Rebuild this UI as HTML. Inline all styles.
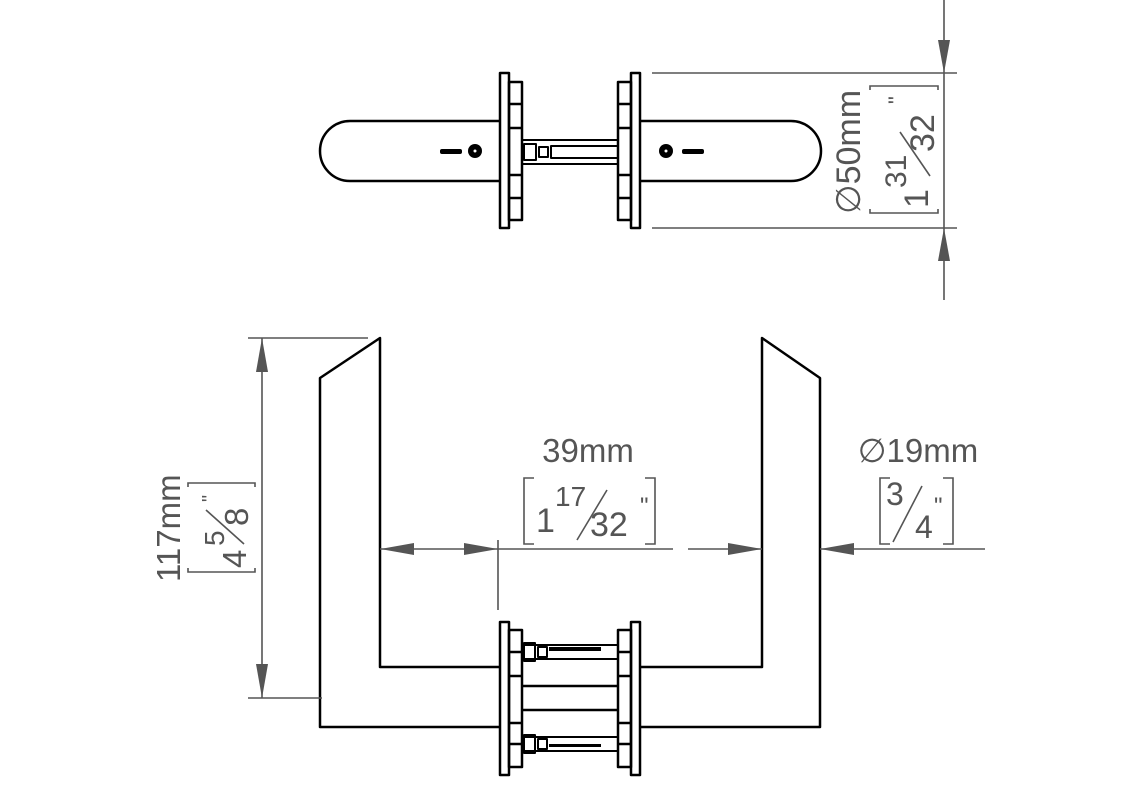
<!DOCTYPE html>
<html><head><meta charset="utf-8"><style>
html,body{margin:0;padding:0;background:#fff;}
svg{display:block;}
text{font-family:"Liberation Sans",Arial,sans-serif;fill:#555;}
</style></head><body>
<svg width="1130" height="800" viewBox="0 0 1130 800" xmlns="http://www.w3.org/2000/svg">
<g fill="none" stroke="#000" stroke-width="2.5" stroke-linejoin="round">
  <path d="M500,121 H350 A30,30 0 0 0 350,181 H500"/>
  <path d="M640,121 H791 A30,30 0 0 1 791,181 H640"/>
  <rect x="500" y="73" width="9" height="155"/>
  <rect x="509" y="82" width="13" height="138"/>
  <path d="M509,104H522M509,128H522M509,175H522M509,198H522"/>
  <rect x="631" y="73" width="9" height="155"/>
  <rect x="618" y="82" width="13" height="138"/>
  <path d="M618,104H631M618,128H631M618,175H631M618,198H631"/>
  <path d="M522,140H618M522,164H618" stroke-width="2"/>
  <rect x="524" y="144" width="12" height="16" stroke-width="2"/>
  <rect x="539" y="147" width="9" height="10" stroke-width="2"/>
  <rect x="551" y="146" width="67" height="12" stroke-width="2"/>
  <path d="M500,667 H380 V338 L320,378 V727 H500"/>
  <path d="M640,667 H762 V338 L820,378 V727 H640"/>
  <rect x="500" y="622" width="9" height="153"/>
  <rect x="509" y="630" width="13" height="137"/>
  <path d="M509,652H522M509,676H522M509,723H522M509,744H522"/>
  <rect x="631" y="622" width="9" height="153"/>
  <rect x="618" y="630" width="13" height="137"/>
  <path d="M618,652H631M618,676H631M618,723H631M618,744H631"/>
  <path d="M522,686H618M522,710H618"/>
  <path d="M522,645H618M522,659H618M522,737H618M522,751H618" stroke-width="2"/>
  <rect x="524" y="643" width="11" height="18" stroke-width="2"/>
  <rect x="538" y="647" width="9" height="10" stroke-width="2"/>
  <rect x="524" y="735" width="11" height="18" stroke-width="2"/>
  <rect x="538" y="739" width="9" height="10" stroke-width="2"/>
</g>
<g fill="#000">
  <circle cx="475" cy="151" r="7"/><rect x="440" y="149" width="22" height="5" rx="2"/>
  <circle cx="666" cy="151" r="7"/><rect x="682" y="149" width="22" height="5" rx="2"/>
</g>
<circle cx="475" cy="151" r="1.5" fill="#fff"/><circle cx="666" cy="151" r="1.5" fill="#fff"/>
<rect x="549" y="647" width="52" height="4" fill="#000"/>
<rect x="549" y="744" width="52" height="3" fill="#000"/>
<g stroke="#555" stroke-width="1.6" fill="none">
  <path d="M652,73H957M652,228H957M944,0V300"/>
  <path d="M248,338H368M248,698H322M262,338V698"/>
  <path d="M380,549H673M688,549H762M820,549H985M498,540V610"/>
</g>
<g fill="#555">
  <polygon points="944,73 938,40 950,40"/>
  <polygon points="944,228 938,261 950,261"/>
  <polygon points="262,338 256,372 268,372"/>
  <polygon points="262,698 256,664 268,664"/>
  <polygon points="380,549 414,543 414,555"/>
  <polygon points="498,549 464,543 464,555"/>
  <polygon points="762,549 728,543 728,555"/>
  <polygon points="820,549 854,543 854,555"/>
</g>
<g stroke="#555" stroke-width="1.6" fill="none">
  <path d="M534,478H524V544H534M645,478H655V544H645"/>
  <path d="M890,478H880V544H890M943,478H953V544H943"/>
  <path d="M188,487V483H255V487M188,568V572H255V568"/>
  <path d="M870,90V86H938V90M870,209V213H938V209"/>
</g>
<text x="588" y="462" font-size="33" text-anchor="middle">39mm</text>
<text x="536" y="532" font-size="34">1</text>
<text x="555" y="506" font-size="28">17</text>
<path d="M577,540 L607,490" stroke="#555" stroke-width="1.6"/>
<text x="590" y="536" font-size="34">32</text>
<text x="640" y="514" font-size="24">"</text>
<text x="918" y="462" font-size="33" text-anchor="middle">∅19mm</text>
<text x="886" y="505" font-size="32">3</text>
<path d="M893,542 L922,486" stroke="#555" stroke-width="1.6"/>
<text x="915" y="538" font-size="32">4</text>
<text x="934" y="514" font-size="24">"</text>
<g transform="translate(180,582) rotate(-90)">
  <text x="0" y="0" font-size="33">117mm</text>
</g>
<g transform="translate(246,572) rotate(-90)">
  <text x="4" y="0" font-size="33">4</text>
  <text x="26" y="-22" font-size="28">5</text>
  <path d="M28,-2 L62,-40" stroke="#555" stroke-width="1.6"/>
  <text x="46" y="2" font-size="33">8</text>
  <text x="70" y="-30" font-size="20">"</text>
</g>
<g transform="translate(860,214) rotate(-90)">
  <text x="0" y="0" font-size="34">∅50mm</text>
</g>
<g transform="translate(930,208) rotate(-90)">
  <text x="0" y="-2" font-size="34">1</text>
  <text x="20" y="-24" font-size="30">31</text>
  <path d="M32,0 L76,-30" stroke="#555" stroke-width="1.6"/>
  <text x="56" y="4" font-size="34">32</text>
  <text x="104" y="-26" font-size="22">"</text>
</g>
</svg>
</body></html>
